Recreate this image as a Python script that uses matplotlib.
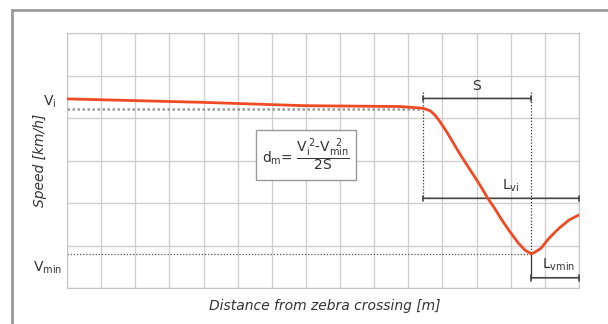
import numpy as np
import matplotlib
matplotlib.use("Agg")
import matplotlib.pyplot as plt
from matplotlib.patches import Rectangle

plt.rcParams['mathtext.default'] = 'regular'

# speed profile (grid units: x 0..15, y 0..6)
curve_x = [0.0, 3.90, 6.94, 9.76, 10.43, 10.64, 10.78, 10.93, 11.12, 11.32,
           11.56, 11.81, 12.10, 12.33, 12.54, 12.74, 12.98, 13.22, 13.42,
           13.57, 13.59, 13.68, 13.88, 14.12, 14.42, 14.71, 15.0]
curve_y = [4.45, 4.37, 4.29, 4.27, 4.23, 4.17, 4.07, 3.91, 3.68, 3.41,
           3.09, 2.78, 2.42, 2.11, 1.86, 1.60, 1.32, 1.06, 0.89,
           0.82, 0.80, 0.83, 0.93, 1.17, 1.41, 1.60, 1.72]

v_i = 4.22
v_min = 0.8
x_s0 = 10.43       # start of braking
x_s1 = 13.59       # point of minimum speed
x_end = 15.0
y_s = 4.46
y_lv = 2.11
y_lvmin = 0.24

fig = plt.figure(figsize=(6.08, 3.24), dpi=100)
fig.patches.append(Rectangle((12/608, -0.05), 1.0, 1 - 10/324 + 0.05,
                             transform=fig.transFigure, fill=False,
                             edgecolor="#9a9a9a", linewidth=2))

ax = fig.add_axes([67/608, 36/324, 512/608, 255/324])
ax.set_xlim(0, 15)
ax.set_ylim(0, 6)
ax.set_xticks(np.arange(0, 16))
ax.set_yticks(np.arange(0, 7))
ax.grid(True, color="#cfcfcf", linewidth=1)
ax.tick_params(length=0, labelbottom=False, labelleft=False)
for sp in ax.spines.values():
    sp.set_color("#c4c4c4")

# reference dotted lines
ax.plot([0, x_s0], [v_i, v_i], color="#9a9a9a", linestyle=(0, (1, 1)), linewidth=1.8)
ax.plot([0, x_s1], [v_min, v_min], color="#555555", linestyle=(0, (1, 1.5)), linewidth=0.9)
ax.plot([x_s0, x_s0], [y_s + 0.15, y_lv], color="#333333", linestyle=(0, (1, 1.5)), linewidth=0.9)
ax.plot([x_s1, x_s1], [y_s + 0.15, v_min], color="#333333", linestyle=(0, (1, 1.5)), linewidth=0.9)
ax.plot([x_s1, x_s1], [v_min, y_lvmin], color="#333333", linewidth=0.9)

# dimension lines
def dim(x0, x1, y):
    ax.annotate("", xy=(x1, y), xytext=(x0, y),
                arrowprops=dict(arrowstyle="|-|,widthA=0.2,widthB=0.2",
                                color="#444444", linewidth=1.2, shrinkA=0, shrinkB=0))

dim(x_s0, x_s1, y_s)
dim(x_s0, x_end, y_lv)
dim(x_s1, x_end, y_lvmin)

ax.text((x_s0 + x_s1) / 2, y_s + 0.12, "S", ha="center", va="bottom", fontsize=10, color="#333333")
ax.text(13.0, y_lv + 0.1, r"L$_{vi}$", ha="center", va="bottom", fontsize=10, color="#333333")
ax.text(14.4, y_lvmin + 0.12, r"L$_{vmin}$", ha="center", va="bottom", fontsize=10, color="#333333")

# speed curve
ax.plot(curve_x, curve_y, color="#f04a24", linewidth=2, solid_capstyle="round",
        solid_joinstyle="round", zorder=5)

# formula box
ax.text(7.0, 3.13, r"d$_m$= $\dfrac{V_i^{\,2}\text{-}V_{min}^{\ \ 2}}{2S}$", ha="center", va="center",
        fontsize=10, color="#333333",
        bbox=dict(boxstyle="square,pad=0.45", facecolor="white", edgecolor="#999999", linewidth=1))

# axis labels
fig.text(50/608, 1 - 102/324, r"V$_i$", ha="center", va="center", fontsize=10, color="#333333")
fig.text(48/608, 1 - 268/324, r"V$_{min}$", ha="center", va="center", fontsize=10, color="#333333")
fig.text(40/608, 1 - 160/324, "Speed [km/h]", rotation=90, ha="center", va="center",
         fontsize=10, style="italic", color="#333333")
fig.text(325/608, 1 - 306/324, "Distance from zebra crossing [m]", ha="center", va="center",
         fontsize=10, style="italic", color="#333333")

fig.savefig("out.png", dpi=100)
